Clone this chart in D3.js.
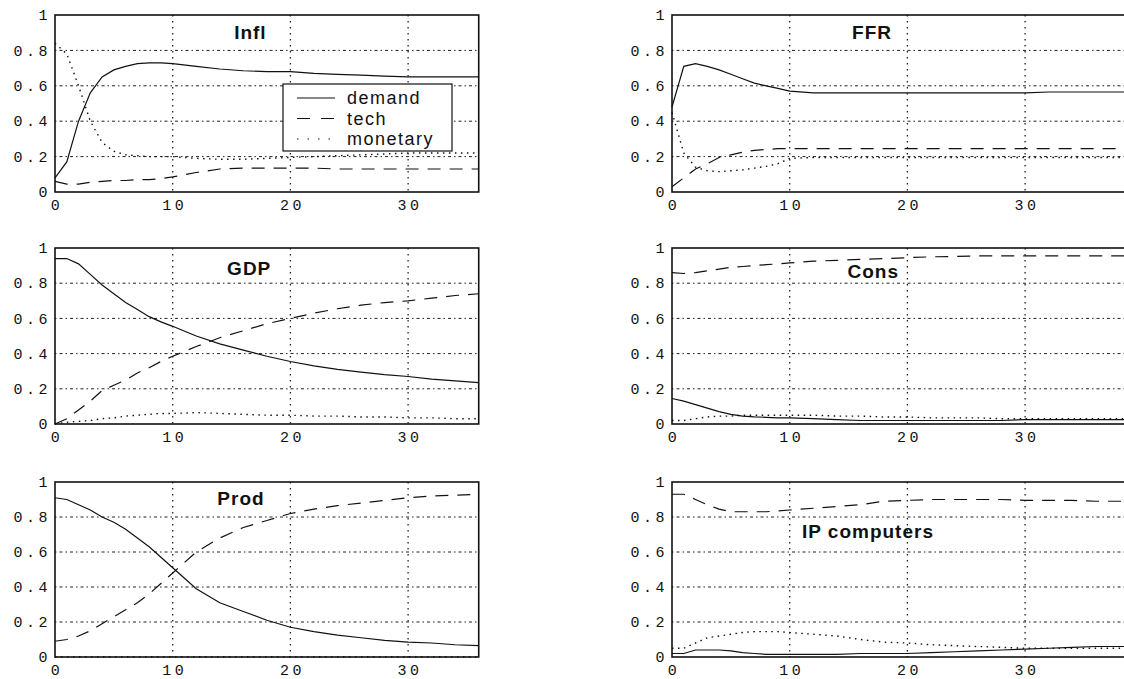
<!DOCTYPE html>
<html><head><meta charset="utf-8">
<script src="https://cdn.jsdelivr.net/npm/d3@7"></script>
<style>body{margin:0;background:#fff;overflow:hidden}</style>
</head><body><svg id="c" width="1124" height="679"></svg>
<script>
// ---- data ----
const stepsLeft = [0,1,2,3,4,5,6,7,8,9,10,12,14,16,18,20,22,24,26,28,30,32,34,36];
const stepsRight = [0,1,2,3,4,5,6,7,8,9,10,12,14,16,18,20,22,24,26,28,30,32,34,36,38,40];
const seriesNames = ["demand", "tech", "monetary"];
const titles = ["Infl", "FFR", "GDP", "Cons", "Prod", "IP computers"];
const yTicks = [0, 0.2, 0.4, 0.6, 0.8, 1];
const yTickLabels = ["0", "0.2", "0.4", "0.6", "0.8", "1"];
const xTicks = [0, 10, 20, 30];
const xTickLabels = ["0", "10", "20", "30"];

const inflDemand = [.08,.17,.40,.56,.65,.69,.71,.725,.73,.73,.725,.71,.695,.685,.68,.68,.67,.665,.66,.655,.65,.65,.65,.65];
const inflTech   = [.06,.045,.045,.055,.06,.065,.065,.07,.07,.075,.085,.11,.13,.135,.135,.135,.135,.13,.13,.13,.13,.13,.13,.13];
const inflMon    = [.84,.78,.60,.40,.28,.23,.21,.205,.20,.20,.20,.19,.185,.185,.19,.195,.20,.205,.21,.215,.22,.22,.22,.22];

const ffrDemand = [.48,.71,.725,.71,.69,.665,.64,.615,.60,.585,.57,.56,.56,.56,.56,.56,.56,.56,.56,.56,.56,.565,.565,.565,.565,.565];
const ffrTech   = [.03,.08,.13,.16,.195,.21,.225,.235,.24,.245,.245,.245,.245,.245,.245,.245,.245,.245,.245,.245,.245,.245,.245,.245,.245,.245];
const ffrMon    = [.45,.22,.14,.12,.115,.12,.125,.135,.145,.16,.19,.195,.195,.195,.195,.195,.195,.195,.195,.195,.195,.195,.195,.195,.195,.195];

const gdpDemand = [.94,.94,.91,.85,.79,.74,.69,.65,.61,.58,.555,.50,.455,.42,.385,.355,.33,.31,.295,.28,.27,.255,.245,.235];
const gdpTech   = [0,.03,.08,.13,.19,.22,.25,.29,.32,.355,.385,.44,.49,.53,.57,.60,.63,.655,.675,.69,.70,.715,.73,.74];
const gdpMon    = [0,.01,.015,.02,.03,.035,.045,.05,.055,.06,.06,.065,.06,.055,.05,.05,.045,.045,.04,.04,.035,.035,.03,.03];

const consDemand = [.145,.13,.11,.09,.07,.055,.045,.04,.038,.035,.035,.03,.025,.02,.02,.02,.02,.02,.02,.02,.025,.025,.025,.025,.025,.025];
const consTech   = [.86,.855,.86,.87,.88,.89,.895,.90,.905,.91,.915,.925,.93,.935,.94,.945,.95,.952,.955,.955,.955,.955,.955,.955,.955,.955];
const consMon    = [.02,.02,.03,.04,.045,.045,.05,.05,.05,.05,.05,.05,.045,.045,.04,.04,.035,.035,.035,.03,.03,.03,.03,.03,.03,.03];

const prodDemand = [.91,.90,.87,.84,.80,.77,.73,.68,.63,.57,.51,.39,.31,.26,.21,.17,.145,.125,.11,.095,.085,.08,.07,.065];
const prodTech   = [.09,.10,.12,.15,.19,.23,.27,.31,.36,.42,.48,.60,.68,.74,.78,.82,.845,.865,.88,.895,.91,.92,.925,.93];
const prodMon    = [0,0,0,0,0,0,0,0,0,0,0,0,0,0,0,0,0,0,0,0,0,0,0,0];

const ipDemand = [.02,.02,.04,.04,.04,.035,.025,.02,.015,.015,.015,.015,.015,.02,.02,.02,.025,.03,.035,.04,.045,.05,.055,.06,.06,.06];
const ipTech   = [.93,.93,.90,.87,.845,.83,.83,.83,.83,.835,.84,.85,.86,.87,.89,.895,.90,.90,.90,.90,.895,.895,.895,.89,.89,.89];
const ipMon    = [.05,.05,.08,.11,.12,.13,.14,.145,.145,.145,.14,.13,.12,.10,.085,.08,.07,.065,.06,.055,.05,.05,.05,.05,.05,.05];

// ---- layout ----
const panelData = [
  {steps: stepsLeft,  series: [inflDemand, inflTech, inflMon], col: 0, row: 0, title: [16.6, 0.9],  legend: true},
  {steps: stepsRight, series: [ffrDemand, ffrTech, ffrMon],    col: 1, row: 0, title: [17.0, 0.9]},
  {steps: stepsLeft,  series: [gdpDemand, gdpTech, gdpMon],    col: 0, row: 1, title: [16.5, 0.885]},
  {steps: stepsRight, series: [consDemand, consTech, consMon], col: 1, row: 1, title: [17.1, 0.87]},
  {steps: stepsLeft,  series: [prodDemand, prodTech, prodMon], col: 0, row: 2, title: [15.8, 0.905]},
  {steps: stepsRight, series: [ipDemand, ipTech, ipMon],       col: 1, row: 2, title: [16.65, 0.72]},
];
const colLayout = [{left: 55, xmax: 36}, {left: 672, xmax: 40}];
const pxPerUnit = 11.77;
const rowLayout = [{top: 15, bottom: 192}, {top: 248, bottom: 424}, {top: 482, bottom: 657}];
const dashes = [null, "13,9", "1.5,4.5"];
const tickFont = "'Liberation Mono', 'DejaVu Sans Mono', monospace";

const svg = d3.select("#c");

panelData.forEach((p, i) => {
  const cl = colLayout[p.col], rl = rowLayout[p.row];
  const w = cl.xmax * pxPerUnit, h = rl.bottom - rl.top;
  const x = d3.scaleLinear().domain([0, cl.xmax]).range([0, w]);
  const y = d3.scaleLinear().domain([0, 1]).range([h, 0]);
  const g = svg.append("g").attr("transform", `translate(${cl.left},${rl.top})`);

  // grid
  g.append("g").selectAll("line").data(yTicks.filter(v => v > 0 && v < 1)).join("line")
    .attr("x1", 0).attr("x2", w).attr("y1", d => y(d)).attr("y2", d => y(d))
    .attr("stroke", "#222").attr("stroke-width", 1).attr("stroke-dasharray", "1.5,3,3,3");
  g.append("g").selectAll("line").data(xTicks.filter(v => v > 0)).join("line")
    .attr("y1", 0).attr("y2", h).attr("x1", d => x(d)).attr("x2", d => x(d))
    .attr("stroke", "#222").attr("stroke-width", 1.3).attr("stroke-dasharray", "1.5,4.5");

  // lines
  const line = d3.line().x((d, k) => x(p.steps[k])).y(d => y(d));
  p.series.forEach((s, k) => {
    g.append("path").datum(s).attr("d", line).attr("fill", "none")
      .attr("stroke", "#111").attr("stroke-width", k === 2 ? 1.4 : 1.2)
      .attr("stroke-dasharray", dashes[k]);
  });

  // frame
  g.append("rect").attr("x", 0).attr("y", 0).attr("width", w).attr("height", h)
    .attr("fill", "none").attr("stroke", "#111").attr("stroke-width", 1.6);

  // axes labels
  g.append("g").selectAll("text").data(yTicks).join("text")
    .attr("x", -4).attr("y", d => y(d)).attr("dy", "0.35em")
    .attr("text-anchor", "end")
    .style("font-family", tickFont)
    .style("font-size", "15px").style("letter-spacing", "3.5px").attr("fill", "#111")
    .text((d, k) => yTickLabels[k]);
  g.append("g").selectAll("text").data(xTicks).join("text")
    .attr("x", d => x(d) + 2).attr("y", h + 13).attr("dy", "0.3em")
    .attr("text-anchor", "middle")
    .style("font-family", tickFont)
    .style("font-size", "15px").style("letter-spacing", "3.5px").attr("fill", "#111")
    .text((d, k) => xTickLabels[k]);

  // title
  g.append("text").attr("x", x(p.title[0])).attr("y", y(p.title[1])).attr("dy", "0.35em")
    .attr("text-anchor", "middle")
    .style("font-family", "'Liberation Sans', Arial, sans-serif").style("font-weight", "bold")
    .style("font-size", "19px").style("letter-spacing", "1px").attr("fill", "#111")
    .text(titles[i]);

  // legend
  if (p.legend) {
    const lg = g.append("g").attr("transform", "translate(228,69)");
    lg.append("rect").attr("width", 169).attr("height", 67).attr("fill", "#fff")
      .attr("stroke", "#111").attr("stroke-width", 1.2);
    seriesNames.forEach((n, k) => {
      const yy = 14 + k * 20.5;
      lg.append("line").attr("x1", 14).attr("x2", 52).attr("y1", yy).attr("y2", yy)
        .attr("stroke", "#111").attr("stroke-width", 1.2)
        .attr("stroke-dasharray", k === 1 ? "13,11" : (k === 2 ? "1.5,9" : null));
      lg.append("text").attr("x", 64).attr("y", yy).attr("dy", "0.35em")
        .style("font-family", "'Liberation Sans', Arial, sans-serif")
        .style("font-size", "18px").style("letter-spacing", "1.5px").attr("fill", "#111")
        .text(n);
    });
  }
});
</script>
</body></html>
